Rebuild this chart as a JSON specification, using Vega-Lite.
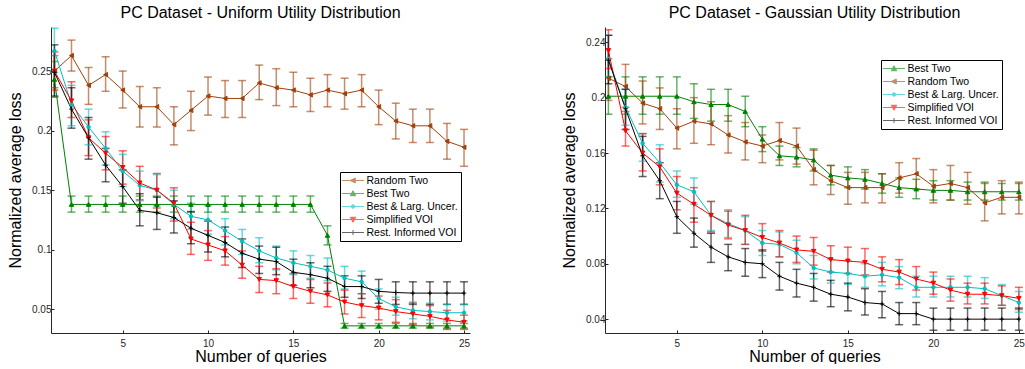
{
  "$schema": "https://vega.github.io/schema/vega-lite/v6.json",
  "background": "white",
  "padding": {"left": 7, "top": 5, "right": 0, "bottom": 0},
  "config": {
    "font": "Liberation Sans",
    "view": {"stroke": null},
    "title": {"fontSize": 16, "fontWeight": "normal", "color": "black", "offset": 6},
    "axis": {"grid": false, "domainColor": "#262626", "tickColor": "#262626", "labelColor": "#262626", "labelFontSize": 10, "titleFontSize": 16, "titleFontWeight": "normal", "titleColor": "black", "tickSize": -3, "labelPadding": 3, "labelOverlap": false},
    "axisX": {"labelPadding": 8, "titlePadding": 0},
    "axisY": {"titlePadding": 8}
  },
  "spacing": 91,
  "resolve": {"scale": {"x": "independent", "y": "independent", "fill": "independent", "shape": "independent", "stroke": "independent"}, "legend": {"fill": "independent", "stroke": "independent", "shape": "independent"}},
  "datasets": {
    "uniform": [
      {"series":"Random Two","q":1,"loss":0.250,"lo":0.236,"hi":0.263},
      {"series":"Random Two","q":2,"loss":0.263,"lo":0.250,"hi":0.276},
      {"series":"Random Two","q":3,"loss":0.238,"lo":0.222,"hi":0.253},
      {"series":"Random Two","q":4,"loss":0.247,"lo":0.233,"hi":0.262},
      {"series":"Random Two","q":5,"loss":0.234,"lo":0.219,"hi":0.250},
      {"series":"Random Two","q":6,"loss":0.220,"lo":0.203,"hi":0.237},
      {"series":"Random Two","q":7,"loss":0.220,"lo":0.203,"hi":0.236},
      {"series":"Random Two","q":8,"loss":0.205,"lo":0.188,"hi":0.220},
      {"series":"Random Two","q":9,"loss":0.217,"lo":0.200,"hi":0.233},
      {"series":"Random Two","q":10,"loss":0.229,"lo":0.213,"hi":0.245},
      {"series":"Random Two","q":11,"loss":0.227,"lo":0.211,"hi":0.242},
      {"series":"Random Two","q":12,"loss":0.227,"lo":0.211,"hi":0.242},
      {"series":"Random Two","q":13,"loss":0.240,"lo":0.226,"hi":0.255},
      {"series":"Random Two","q":14,"loss":0.236,"lo":0.221,"hi":0.252},
      {"series":"Random Two","q":15,"loss":0.234,"lo":0.220,"hi":0.249},
      {"series":"Random Two","q":16,"loss":0.230,"lo":0.216,"hi":0.244},
      {"series":"Random Two","q":17,"loss":0.234,"lo":0.220,"hi":0.247},
      {"series":"Random Two","q":18,"loss":0.231,"lo":0.218,"hi":0.244},
      {"series":"Random Two","q":19,"loss":0.234,"lo":0.220,"hi":0.247},
      {"series":"Random Two","q":20,"loss":0.220,"lo":0.205,"hi":0.234},
      {"series":"Random Two","q":21,"loss":0.208,"lo":0.193,"hi":0.223},
      {"series":"Random Two","q":22,"loss":0.204,"lo":0.190,"hi":0.218},
      {"series":"Random Two","q":23,"loss":0.204,"lo":0.190,"hi":0.218},
      {"series":"Random Two","q":24,"loss":0.191,"lo":0.176,"hi":0.206},
      {"series":"Random Two","q":25,"loss":0.186,"lo":0.170,"hi":0.201},
      {"series":"Best Two","q":1,"loss":0.243,"lo":0.228,"hi":0.258},
      {"series":"Best Two","q":2,"loss":0.138,"lo":0.1315,"hi":0.145},
      {"series":"Best Two","q":3,"loss":0.138,"lo":0.1315,"hi":0.145},
      {"series":"Best Two","q":4,"loss":0.138,"lo":0.1315,"hi":0.145},
      {"series":"Best Two","q":5,"loss":0.138,"lo":0.1315,"hi":0.145},
      {"series":"Best Two","q":6,"loss":0.138,"lo":0.1315,"hi":0.145},
      {"series":"Best Two","q":7,"loss":0.138,"lo":0.1315,"hi":0.145},
      {"series":"Best Two","q":8,"loss":0.138,"lo":0.1315,"hi":0.145},
      {"series":"Best Two","q":9,"loss":0.138,"lo":0.1315,"hi":0.145},
      {"series":"Best Two","q":10,"loss":0.138,"lo":0.1315,"hi":0.145},
      {"series":"Best Two","q":11,"loss":0.138,"lo":0.1315,"hi":0.145},
      {"series":"Best Two","q":12,"loss":0.138,"lo":0.1315,"hi":0.145},
      {"series":"Best Two","q":13,"loss":0.138,"lo":0.1315,"hi":0.145},
      {"series":"Best Two","q":14,"loss":0.138,"lo":0.1315,"hi":0.145},
      {"series":"Best Two","q":15,"loss":0.138,"lo":0.1315,"hi":0.145},
      {"series":"Best Two","q":16,"loss":0.138,"lo":0.1315,"hi":0.145},
      {"series":"Best Two","q":17,"loss":0.112,"lo":0.104,"hi":0.120},
      {"series":"Best Two","q":18,"loss":0.036,"lo":0.034,"hi":0.038},
      {"series":"Best Two","q":19,"loss":0.036,"lo":0.034,"hi":0.038},
      {"series":"Best Two","q":20,"loss":0.036,"lo":0.034,"hi":0.038},
      {"series":"Best Two","q":21,"loss":0.036,"lo":0.034,"hi":0.038},
      {"series":"Best Two","q":22,"loss":0.036,"lo":0.034,"hi":0.038},
      {"series":"Best Two","q":23,"loss":0.036,"lo":0.034,"hi":0.038},
      {"series":"Best Two","q":24,"loss":0.036,"lo":0.034,"hi":0.038},
      {"series":"Best Two","q":25,"loss":0.036,"lo":0.034,"hi":0.038},
      {"series":"Best & Larg. Uncer.","q":1,"loss":0.267,"lo":0.249,"hi":0.286},
      {"series":"Best & Larg. Uncer.","q":2,"loss":0.222,"lo":0.204,"hi":0.238},
      {"series":"Best & Larg. Uncer.","q":3,"loss":0.203,"lo":0.188,"hi":0.218},
      {"series":"Best & Larg. Uncer.","q":4,"loss":0.185,"lo":0.171,"hi":0.199},
      {"series":"Best & Larg. Uncer.","q":5,"loss":0.166,"lo":0.153,"hi":0.180},
      {"series":"Best & Larg. Uncer.","q":6,"loss":0.154,"lo":0.141,"hi":0.166},
      {"series":"Best & Larg. Uncer.","q":7,"loss":0.150,"lo":0.137,"hi":0.163},
      {"series":"Best & Larg. Uncer.","q":8,"loss":0.138,"lo":0.126,"hi":0.150},
      {"series":"Best & Larg. Uncer.","q":9,"loss":0.128,"lo":0.117,"hi":0.139},
      {"series":"Best & Larg. Uncer.","q":10,"loss":0.125,"lo":0.113,"hi":0.137},
      {"series":"Best & Larg. Uncer.","q":11,"loss":0.116,"lo":0.104,"hi":0.126},
      {"series":"Best & Larg. Uncer.","q":12,"loss":0.107,"lo":0.096,"hi":0.117},
      {"series":"Best & Larg. Uncer.","q":13,"loss":0.099,"lo":0.089,"hi":0.110},
      {"series":"Best & Larg. Uncer.","q":14,"loss":0.093,"lo":0.083,"hi":0.103},
      {"series":"Best & Larg. Uncer.","q":15,"loss":0.089,"lo":0.079,"hi":0.099},
      {"series":"Best & Larg. Uncer.","q":16,"loss":0.086,"lo":0.076,"hi":0.095},
      {"series":"Best & Larg. Uncer.","q":17,"loss":0.083,"lo":0.074,"hi":0.093},
      {"series":"Best & Larg. Uncer.","q":18,"loss":0.076,"lo":0.067,"hi":0.086},
      {"series":"Best & Larg. Uncer.","q":19,"loss":0.073,"lo":0.063,"hi":0.082},
      {"series":"Best & Larg. Uncer.","q":20,"loss":0.059,"lo":0.050,"hi":0.067},
      {"series":"Best & Larg. Uncer.","q":21,"loss":0.052,"lo":0.045,"hi":0.060},
      {"series":"Best & Larg. Uncer.","q":22,"loss":0.049,"lo":0.042,"hi":0.056},
      {"series":"Best & Larg. Uncer.","q":23,"loss":0.048,"lo":0.041,"hi":0.055},
      {"series":"Best & Larg. Uncer.","q":24,"loss":0.047,"lo":0.040,"hi":0.054},
      {"series":"Best & Larg. Uncer.","q":25,"loss":0.047,"lo":0.040,"hi":0.054},
      {"series":"Simplified VOI","q":1,"loss":0.250,"lo":0.234,"hi":0.266},
      {"series":"Simplified VOI","q":2,"loss":0.225,"lo":0.211,"hi":0.241},
      {"series":"Simplified VOI","q":3,"loss":0.194,"lo":0.179,"hi":0.209},
      {"series":"Simplified VOI","q":4,"loss":0.181,"lo":0.167,"hi":0.195},
      {"series":"Simplified VOI","q":5,"loss":0.169,"lo":0.155,"hi":0.183},
      {"series":"Simplified VOI","q":6,"loss":0.156,"lo":0.142,"hi":0.170},
      {"series":"Simplified VOI","q":7,"loss":0.150,"lo":0.135,"hi":0.164},
      {"series":"Simplified VOI","q":8,"loss":0.139,"lo":0.124,"hi":0.152},
      {"series":"Simplified VOI","q":9,"loss":0.109,"lo":0.096,"hi":0.123},
      {"series":"Simplified VOI","q":10,"loss":0.104,"lo":0.091,"hi":0.116},
      {"series":"Simplified VOI","q":11,"loss":0.099,"lo":0.087,"hi":0.111},
      {"series":"Simplified VOI","q":12,"loss":0.087,"lo":0.076,"hi":0.099},
      {"series":"Simplified VOI","q":13,"loss":0.075,"lo":0.064,"hi":0.086},
      {"series":"Simplified VOI","q":14,"loss":0.074,"lo":0.063,"hi":0.084},
      {"series":"Simplified VOI","q":15,"loss":0.069,"lo":0.059,"hi":0.080},
      {"series":"Simplified VOI","q":16,"loss":0.065,"lo":0.055,"hi":0.075},
      {"series":"Simplified VOI","q":17,"loss":0.062,"lo":0.052,"hi":0.072},
      {"series":"Simplified VOI","q":18,"loss":0.056,"lo":0.046,"hi":0.066},
      {"series":"Simplified VOI","q":19,"loss":0.053,"lo":0.043,"hi":0.063},
      {"series":"Simplified VOI","q":20,"loss":0.051,"lo":0.041,"hi":0.061},
      {"series":"Simplified VOI","q":21,"loss":0.048,"lo":0.039,"hi":0.058},
      {"series":"Simplified VOI","q":22,"loss":0.046,"lo":0.037,"hi":0.055},
      {"series":"Simplified VOI","q":23,"loss":0.044,"lo":0.035,"hi":0.053},
      {"series":"Simplified VOI","q":24,"loss":0.041,"lo":0.033,"hi":0.049},
      {"series":"Simplified VOI","q":25,"loss":0.039,"lo":0.033,"hi":0.045},
      {"series":"Rest. Informed VOI","q":1,"loss":0.249,"lo":0.229,"hi":0.272},
      {"series":"Rest. Informed VOI","q":2,"loss":0.218,"lo":0.202,"hi":0.236},
      {"series":"Rest. Informed VOI","q":3,"loss":0.194,"lo":0.176,"hi":0.211},
      {"series":"Rest. Informed VOI","q":4,"loss":0.171,"lo":0.157,"hi":0.185},
      {"series":"Rest. Informed VOI","q":5,"loss":0.153,"lo":0.139,"hi":0.167},
      {"series":"Rest. Informed VOI","q":6,"loss":0.133,"lo":0.120,"hi":0.147},
      {"series":"Rest. Informed VOI","q":7,"loss":0.131,"lo":0.117,"hi":0.144},
      {"series":"Rest. Informed VOI","q":8,"loss":0.127,"lo":0.114,"hi":0.141},
      {"series":"Rest. Informed VOI","q":9,"loss":0.118,"lo":0.105,"hi":0.132},
      {"series":"Rest. Informed VOI","q":10,"loss":0.112,"lo":0.098,"hi":0.124},
      {"series":"Rest. Informed VOI","q":11,"loss":0.106,"lo":0.094,"hi":0.119},
      {"series":"Rest. Informed VOI","q":12,"loss":0.097,"lo":0.085,"hi":0.109},
      {"series":"Rest. Informed VOI","q":13,"loss":0.092,"lo":0.080,"hi":0.103},
      {"series":"Rest. Informed VOI","q":14,"loss":0.090,"lo":0.079,"hi":0.102},
      {"series":"Rest. Informed VOI","q":15,"loss":0.081,"lo":0.070,"hi":0.092},
      {"series":"Rest. Informed VOI","q":16,"loss":0.079,"lo":0.068,"hi":0.089},
      {"series":"Rest. Informed VOI","q":17,"loss":0.076,"lo":0.065,"hi":0.086},
      {"series":"Rest. Informed VOI","q":18,"loss":0.069,"lo":0.060,"hi":0.078},
      {"series":"Rest. Informed VOI","q":19,"loss":0.069,"lo":0.059,"hi":0.078},
      {"series":"Rest. Informed VOI","q":20,"loss":0.065,"lo":0.055,"hi":0.075},
      {"series":"Rest. Informed VOI","q":21,"loss":0.064,"lo":0.054,"hi":0.073},
      {"series":"Rest. Informed VOI","q":22,"loss":0.0635,"lo":0.054,"hi":0.073},
      {"series":"Rest. Informed VOI","q":23,"loss":0.0635,"lo":0.054,"hi":0.073},
      {"series":"Rest. Informed VOI","q":24,"loss":0.0635,"lo":0.054,"hi":0.073},
      {"series":"Rest. Informed VOI","q":25,"loss":0.0635,"lo":0.054,"hi":0.073}
    ],
    "gaussian": [
      {"series":"Best Two","q":1,"loss":0.201,"lo":0.188,"hi":0.215},
      {"series":"Best Two","q":2,"loss":0.201,"lo":0.188,"hi":0.215},
      {"series":"Best Two","q":3,"loss":0.201,"lo":0.188,"hi":0.215},
      {"series":"Best Two","q":4,"loss":0.201,"lo":0.188,"hi":0.215},
      {"series":"Best Two","q":5,"loss":0.201,"lo":0.188,"hi":0.215},
      {"series":"Best Two","q":6,"loss":0.197,"lo":0.185,"hi":0.210},
      {"series":"Best Two","q":7,"loss":0.195,"lo":0.183,"hi":0.206},
      {"series":"Best Two","q":8,"loss":0.195,"lo":0.183,"hi":0.206},
      {"series":"Best Two","q":9,"loss":0.190,"lo":0.179,"hi":0.201},
      {"series":"Best Two","q":10,"loss":0.170,"lo":0.161,"hi":0.179},
      {"series":"Best Two","q":11,"loss":0.158,"lo":0.151,"hi":0.165},
      {"series":"Best Two","q":12,"loss":0.157,"lo":0.150,"hi":0.164},
      {"series":"Best Two","q":13,"loss":0.155,"lo":0.147,"hi":0.163},
      {"series":"Best Two","q":14,"loss":0.144,"lo":0.137,"hi":0.151},
      {"series":"Best Two","q":15,"loss":0.142,"lo":0.135,"hi":0.150},
      {"series":"Best Two","q":16,"loss":0.141,"lo":0.134,"hi":0.148},
      {"series":"Best Two","q":17,"loss":0.138,"lo":0.131,"hi":0.145},
      {"series":"Best Two","q":18,"loss":0.135,"lo":0.128,"hi":0.142},
      {"series":"Best Two","q":19,"loss":0.134,"lo":0.127,"hi":0.141},
      {"series":"Best Two","q":20,"loss":0.133,"lo":0.126,"hi":0.140},
      {"series":"Best Two","q":21,"loss":0.133,"lo":0.126,"hi":0.140},
      {"series":"Best Two","q":22,"loss":0.132,"lo":0.126,"hi":0.139},
      {"series":"Best Two","q":23,"loss":0.132,"lo":0.126,"hi":0.139},
      {"series":"Best Two","q":24,"loss":0.132,"lo":0.126,"hi":0.138},
      {"series":"Best Two","q":25,"loss":0.132,"lo":0.126,"hi":0.138},
      {"series":"Random Two","q":1,"loss":0.214,"lo":0.198,"hi":0.228},
      {"series":"Random Two","q":2,"loss":0.208,"lo":0.193,"hi":0.224},
      {"series":"Random Two","q":3,"loss":0.196,"lo":0.181,"hi":0.212},
      {"series":"Random Two","q":4,"loss":0.192,"lo":0.177,"hi":0.207},
      {"series":"Random Two","q":5,"loss":0.178,"lo":0.163,"hi":0.192},
      {"series":"Random Two","q":6,"loss":0.183,"lo":0.167,"hi":0.200},
      {"series":"Random Two","q":7,"loss":0.181,"lo":0.166,"hi":0.197},
      {"series":"Random Two","q":8,"loss":0.173,"lo":0.160,"hi":0.187},
      {"series":"Random Two","q":9,"loss":0.168,"lo":0.155,"hi":0.182},
      {"series":"Random Two","q":10,"loss":0.165,"lo":0.153,"hi":0.173},
      {"series":"Random Two","q":11,"loss":0.169,"lo":0.155,"hi":0.182},
      {"series":"Random Two","q":12,"loss":0.165,"lo":0.152,"hi":0.178},
      {"series":"Random Two","q":13,"loss":0.148,"lo":0.137,"hi":0.162},
      {"series":"Random Two","q":14,"loss":0.140,"lo":0.130,"hi":0.151},
      {"series":"Random Two","q":15,"loss":0.135,"lo":0.123,"hi":0.146},
      {"series":"Random Two","q":16,"loss":0.135,"lo":0.124,"hi":0.146},
      {"series":"Random Two","q":17,"loss":0.135,"lo":0.124,"hi":0.145},
      {"series":"Random Two","q":18,"loss":0.142,"lo":0.131,"hi":0.153},
      {"series":"Random Two","q":19,"loss":0.145,"lo":0.134,"hi":0.156},
      {"series":"Random Two","q":20,"loss":0.136,"lo":0.124,"hi":0.148},
      {"series":"Random Two","q":21,"loss":0.138,"lo":0.126,"hi":0.151},
      {"series":"Random Two","q":22,"loss":0.135,"lo":0.123,"hi":0.146},
      {"series":"Random Two","q":23,"loss":0.124,"lo":0.111,"hi":0.138},
      {"series":"Random Two","q":24,"loss":0.128,"lo":0.116,"hi":0.140},
      {"series":"Random Two","q":25,"loss":0.128,"lo":0.116,"hi":0.139},
      {"series":"Best & Larg. Uncer.","q":1,"loss":0.228,"lo":0.215,"hi":0.245},
      {"series":"Best & Larg. Uncer.","q":2,"loss":0.193,"lo":0.180,"hi":0.206},
      {"series":"Best & Larg. Uncer.","q":3,"loss":0.167,"lo":0.154,"hi":0.174},
      {"series":"Best & Larg. Uncer.","q":4,"loss":0.153,"lo":0.139,"hi":0.166},
      {"series":"Best & Larg. Uncer.","q":5,"loss":0.137,"lo":0.128,"hi":0.147},
      {"series":"Best & Larg. Uncer.","q":6,"loss":0.132,"lo":0.123,"hi":0.142},
      {"series":"Best & Larg. Uncer.","q":7,"loss":0.115,"lo":0.104,"hi":0.125},
      {"series":"Best & Larg. Uncer.","q":8,"loss":0.109,"lo":0.099,"hi":0.119},
      {"series":"Best & Larg. Uncer.","q":9,"loss":0.104,"lo":0.094,"hi":0.114},
      {"series":"Best & Larg. Uncer.","q":10,"loss":0.095,"lo":0.086,"hi":0.104},
      {"series":"Best & Larg. Uncer.","q":11,"loss":0.094,"lo":0.085,"hi":0.103},
      {"series":"Best & Larg. Uncer.","q":12,"loss":0.088,"lo":0.080,"hi":0.097},
      {"series":"Best & Larg. Uncer.","q":13,"loss":0.077,"lo":0.069,"hi":0.086},
      {"series":"Best & Larg. Uncer.","q":14,"loss":0.074,"lo":0.066,"hi":0.083},
      {"series":"Best & Larg. Uncer.","q":15,"loss":0.073,"lo":0.065,"hi":0.082},
      {"series":"Best & Larg. Uncer.","q":16,"loss":0.071,"lo":0.063,"hi":0.080},
      {"series":"Best & Larg. Uncer.","q":17,"loss":0.072,"lo":0.064,"hi":0.081},
      {"series":"Best & Larg. Uncer.","q":18,"loss":0.070,"lo":0.062,"hi":0.078},
      {"series":"Best & Larg. Uncer.","q":19,"loss":0.063,"lo":0.056,"hi":0.071},
      {"series":"Best & Larg. Uncer.","q":20,"loss":0.063,"lo":0.056,"hi":0.071},
      {"series":"Best & Larg. Uncer.","q":21,"loss":0.063,"lo":0.056,"hi":0.071},
      {"series":"Best & Larg. Uncer.","q":22,"loss":0.063,"lo":0.056,"hi":0.071},
      {"series":"Best & Larg. Uncer.","q":23,"loss":0.062,"lo":0.055,"hi":0.070},
      {"series":"Best & Larg. Uncer.","q":24,"loss":0.057,"lo":0.050,"hi":0.065},
      {"series":"Best & Larg. Uncer.","q":25,"loss":0.052,"lo":0.045,"hi":0.060},
      {"series":"Simplified VOI","q":1,"loss":0.234,"lo":0.221,"hi":0.249},
      {"series":"Simplified VOI","q":2,"loss":0.176,"lo":0.165,"hi":0.190},
      {"series":"Simplified VOI","q":3,"loss":0.160,"lo":0.147,"hi":0.174},
      {"series":"Simplified VOI","q":4,"loss":0.150,"lo":0.137,"hi":0.163},
      {"series":"Simplified VOI","q":5,"loss":0.131,"lo":0.119,"hi":0.143},
      {"series":"Simplified VOI","q":6,"loss":0.123,"lo":0.110,"hi":0.135},
      {"series":"Simplified VOI","q":7,"loss":0.115,"lo":0.103,"hi":0.125},
      {"series":"Simplified VOI","q":8,"loss":0.108,"lo":0.098,"hi":0.118},
      {"series":"Simplified VOI","q":9,"loss":0.104,"lo":0.094,"hi":0.115},
      {"series":"Simplified VOI","q":10,"loss":0.099,"lo":0.089,"hi":0.109},
      {"series":"Simplified VOI","q":11,"loss":0.095,"lo":0.085,"hi":0.104},
      {"series":"Simplified VOI","q":12,"loss":0.090,"lo":0.081,"hi":0.100},
      {"series":"Simplified VOI","q":13,"loss":0.089,"lo":0.079,"hi":0.099},
      {"series":"Simplified VOI","q":14,"loss":0.083,"lo":0.074,"hi":0.093},
      {"series":"Simplified VOI","q":15,"loss":0.082,"lo":0.073,"hi":0.092},
      {"series":"Simplified VOI","q":16,"loss":0.081,"lo":0.072,"hi":0.091},
      {"series":"Simplified VOI","q":17,"loss":0.076,"lo":0.067,"hi":0.085},
      {"series":"Simplified VOI","q":18,"loss":0.074,"lo":0.065,"hi":0.083},
      {"series":"Simplified VOI","q":19,"loss":0.069,"lo":0.061,"hi":0.078},
      {"series":"Simplified VOI","q":20,"loss":0.066,"lo":0.058,"hi":0.074},
      {"series":"Simplified VOI","q":21,"loss":0.061,"lo":0.053,"hi":0.069},
      {"series":"Simplified VOI","q":22,"loss":0.058,"lo":0.051,"hi":0.066},
      {"series":"Simplified VOI","q":23,"loss":0.058,"lo":0.051,"hi":0.066},
      {"series":"Simplified VOI","q":24,"loss":0.057,"lo":0.050,"hi":0.064},
      {"series":"Simplified VOI","q":25,"loss":0.055,"lo":0.047,"hi":0.063},
      {"series":"Rest. Informed VOI","q":1,"loss":0.227,"lo":0.210,"hi":0.245},
      {"series":"Rest. Informed VOI","q":2,"loss":0.192,"lo":0.177,"hi":0.206},
      {"series":"Rest. Informed VOI","q":3,"loss":0.158,"lo":0.143,"hi":0.172},
      {"series":"Rest. Informed VOI","q":4,"loss":0.140,"lo":0.127,"hi":0.153},
      {"series":"Rest. Informed VOI","q":5,"loss":0.114,"lo":0.102,"hi":0.125},
      {"series":"Rest. Informed VOI","q":6,"loss":0.102,"lo":0.092,"hi":0.113},
      {"series":"Rest. Informed VOI","q":7,"loss":0.092,"lo":0.081,"hi":0.102},
      {"series":"Rest. Informed VOI","q":8,"loss":0.085,"lo":0.075,"hi":0.094},
      {"series":"Rest. Informed VOI","q":9,"loss":0.081,"lo":0.071,"hi":0.091},
      {"series":"Rest. Informed VOI","q":10,"loss":0.080,"lo":0.070,"hi":0.090},
      {"series":"Rest. Informed VOI","q":11,"loss":0.071,"lo":0.061,"hi":0.081},
      {"series":"Rest. Informed VOI","q":12,"loss":0.066,"lo":0.056,"hi":0.076},
      {"series":"Rest. Informed VOI","q":13,"loss":0.063,"lo":0.053,"hi":0.073},
      {"series":"Rest. Informed VOI","q":14,"loss":0.058,"lo":0.049,"hi":0.068},
      {"series":"Rest. Informed VOI","q":15,"loss":0.056,"lo":0.046,"hi":0.066},
      {"series":"Rest. Informed VOI","q":16,"loss":0.052,"lo":0.043,"hi":0.062},
      {"series":"Rest. Informed VOI","q":17,"loss":0.051,"lo":0.041,"hi":0.060},
      {"series":"Rest. Informed VOI","q":18,"loss":0.044,"lo":0.036,"hi":0.052},
      {"series":"Rest. Informed VOI","q":19,"loss":0.044,"lo":0.036,"hi":0.052},
      {"series":"Rest. Informed VOI","q":20,"loss":0.040,"lo":0.032,"hi":0.048},
      {"series":"Rest. Informed VOI","q":21,"loss":0.040,"lo":0.032,"hi":0.048},
      {"series":"Rest. Informed VOI","q":22,"loss":0.040,"lo":0.032,"hi":0.048},
      {"series":"Rest. Informed VOI","q":23,"loss":0.040,"lo":0.032,"hi":0.048},
      {"series":"Rest. Informed VOI","q":24,"loss":0.040,"lo":0.032,"hi":0.048},
      {"series":"Rest. Informed VOI","q":25,"loss":0.040,"lo":0.032,"hi":0.048}
    ]
  },
  "hconcat": [
    {
      "width": 419, "height": 306,
      "title": "PC Dataset - Uniform Utility Distribution",
      "data": {"name": "uniform"},
      "encoding": {
        "x": {"field": "q", "type": "quantitative", "scale": {"domain": [0.8, 25.35], "nice": false, "zero": false}, "axis": {"title": "Number of queries", "values": [5, 10, 15, 20, 25]}}
      },
      "layer": [
        {"mark": {"type": "rule", "strokeWidth": 1.5, "opacity": 0.6, "clip": true},
         "encoding": {
           "y": {"field": "lo", "type": "quantitative", "title": "Normalized average loss", "scale": {"domain": [0.03, 0.287], "nice": false, "zero": false}, "axis": {"values": [0.05, 0.1, 0.15, 0.2, 0.25], "format": "~g"}},
           "y2": {"field": "hi"},
           "stroke": {"field": "series", "type": "nominal", "scale": {"domain": ["Random Two", "Best Two", "Best & Larg. Uncer.", "Simplified VOI", "Rest. Informed VOI"], "range": ["#a0400a", "#008000", "#00bfbf", "#ff0000", "#000000"]}}
         }},
        {"mark": {"type": "tick", "orient": "horizontal", "size": 8, "thickness": 1.5, "opacity": 0.6, "clip": true},
         "encoding": {
           "y": {"field": "lo", "type": "quantitative", "title": "Normalized average loss"},
           "fill": {"field": "series", "type": "nominal", "scale": {"domain": ["Random Two", "Best Two", "Best & Larg. Uncer.", "Simplified VOI", "Rest. Informed VOI"], "range": ["#a0400a", "#008000", "#00bfbf", "#ff0000", "#000000"]}}
         }},
        {"mark": {"type": "tick", "orient": "horizontal", "size": 8, "thickness": 1.5, "opacity": 0.6, "clip": true},
         "encoding": {
           "y": {"field": "hi", "type": "quantitative", "title": "Normalized average loss"},
           "fill": {"field": "series", "type": "nominal"}
         }},
        {"mark": {"type": "line", "strokeWidth": 1, "clip": true},
         "encoding": {
           "y": {"field": "loss", "type": "quantitative", "title": "Normalized average loss"},
           "stroke": {"field": "series", "type": "nominal"}
         }},
        {"mark": {"type": "point", "filled": true, "opacity": 0, "size": 20, "clip": true},
         "encoding": {
           "y": {"field": "loss", "type": "quantitative", "title": "Normalized average loss"},
           "shape": {"field": "series", "type": "nominal", "scale": {"domain": ["Random Two", "Best Two", "Best & Larg. Uncer.", "Simplified VOI", "Rest. Informed VOI"], "range": ["M-2.2,0L2.2,0M-0.55,0L0.45,-0.5L0.45,0.5Z", "M-2.2,0L2.2,0M-0.55,0.45L0.55,0.45L0,-0.55Z", "M-2.2,0L2.2,0M0.35,0A0.35,0.35 0 1,1 -0.35,0A0.35,0.35 0 1,1 0.35,0Z", "M-2.2,0L2.2,0M-0.55,-0.45L0.55,-0.45L0,0.55Z", "M-2.2,0L2.2,0M0,-0.5L0,0.5"]},
             "legend": {"orient": "none", "legendX": 289, "legendY": 145, "title": null, "strokeColor": "black", "fillColor": "white", "padding": 3, "labelFont": "Liberation Sans", "labelFontSize": 10.5, "labelColor": "black", "symbolSize": 100, "symbolOffset": 4.5, "labelOffset": 8, "rowPadding": 2, "symbolOpacity": 1, "symbolStrokeWidth": 1}},
           "fill": {"field": "series", "type": "nominal",
             "legend": {"orient": "none", "legendX": 289, "legendY": 145, "title": null, "strokeColor": "black", "fillColor": "white", "padding": 3, "labelFont": "Liberation Sans", "labelFontSize": 10.5, "labelColor": "black", "symbolSize": 100, "symbolOffset": 4.5, "labelOffset": 8, "rowPadding": 2, "symbolOpacity": 1, "symbolStrokeWidth": 1}},
           "stroke": {"field": "series", "type": "nominal",
             "legend": {"orient": "none", "legendX": 289, "legendY": 145, "title": null, "strokeColor": "black", "fillColor": "white", "padding": 3, "labelFont": "Liberation Sans", "labelFontSize": 10.5, "labelColor": "black", "symbolSize": 100, "symbolOffset": 4.5, "labelOffset": 8, "rowPadding": 2, "symbolOpacity": 1, "symbolStrokeWidth": 1}}
         }},
        {"transform": [{"filter": {"field": "series", "equal": "Random Two"}}],
         "mark": {"type": "point", "shape": "triangle-left", "filled": true, "opacity": 1, "size": 20, "strokeWidth": 1, "clip": true},
         "encoding": {"y": {"field": "loss", "type": "quantitative", "title": "Normalized average loss"}, "fill": {"field": "series", "type": "nominal"}, "stroke": {"field": "series", "type": "nominal"}}},
        {"transform": [{"filter": {"field": "series", "equal": "Best Two"}}],
         "mark": {"type": "point", "shape": "triangle-up", "filled": true, "opacity": 1, "size": 20, "strokeWidth": 1, "clip": true},
         "encoding": {"y": {"field": "loss", "type": "quantitative", "title": "Normalized average loss"}, "fill": {"field": "series", "type": "nominal"}, "stroke": {"field": "series", "type": "nominal"}}},
        {"transform": [{"filter": {"field": "series", "equal": "Best & Larg. Uncer."}}],
         "mark": {"type": "point", "shape": "circle", "filled": true, "opacity": 1, "size": 12, "strokeWidth": 1, "clip": true},
         "encoding": {"y": {"field": "loss", "type": "quantitative", "title": "Normalized average loss"}, "fill": {"field": "series", "type": "nominal"}, "stroke": {"field": "series", "type": "nominal"}}},
        {"transform": [{"filter": {"field": "series", "equal": "Simplified VOI"}}],
         "mark": {"type": "point", "shape": "triangle-down", "filled": true, "opacity": 1, "size": 20, "strokeWidth": 1, "clip": true},
         "encoding": {"y": {"field": "loss", "type": "quantitative", "title": "Normalized average loss"}, "fill": {"field": "series", "type": "nominal"}, "stroke": {"field": "series", "type": "nominal"}}},
        {"transform": [{"filter": {"field": "series", "equal": "Rest. Informed VOI"}}],
         "mark": {"type": "point", "shape": "M-1,0L1,0M0,-1L0,1", "filled": true, "opacity": 1, "size": 20, "strokeWidth": 1, "clip": true},
         "encoding": {"y": {"field": "loss", "type": "quantitative", "title": "Normalized average loss"}, "fill": {"field": "series", "type": "nominal"}, "stroke": {"field": "series", "type": "nominal"}}}
      ]
    },
    {
      "width": 419, "height": 306,
      "title": "PC Dataset - Gaussian Utility Distribution",
      "data": {"name": "gaussian"},
      "encoding": {
        "x": {"field": "q", "type": "quantitative", "scale": {"domain": [0.8, 25.3], "nice": false, "zero": false}, "axis": {"title": "Number of queries", "values": [5, 10, 15, 20, 25]}}
      },
      "layer": [
        {"mark": {"type": "rule", "strokeWidth": 1.5, "opacity": 0.6, "clip": true},
         "encoding": {
           "y": {"field": "lo", "type": "quantitative", "title": "Normalized average loss", "scale": {"domain": [0.03, 0.251], "nice": false, "zero": false}, "axis": {"values": [0.04, 0.06, 0.08, 0.1, 0.12, 0.14, 0.16, 0.18, 0.2, 0.22, 0.24], "format": "~g"}},
           "y2": {"field": "hi"},
           "stroke": {"field": "series", "type": "nominal", "scale": {"domain": ["Best Two", "Random Two", "Best & Larg. Uncer.", "Simplified VOI", "Rest. Informed VOI"], "range": ["#008000", "#a0400a", "#00bfbf", "#ff0000", "#000000"]}}
         }},
        {"mark": {"type": "tick", "orient": "horizontal", "size": 8, "thickness": 1.5, "opacity": 0.6, "clip": true},
         "encoding": {
           "y": {"field": "lo", "type": "quantitative", "title": "Normalized average loss"},
           "fill": {"field": "series", "type": "nominal", "scale": {"domain": ["Best Two", "Random Two", "Best & Larg. Uncer.", "Simplified VOI", "Rest. Informed VOI"], "range": ["#008000", "#a0400a", "#00bfbf", "#ff0000", "#000000"]}}
         }},
        {"mark": {"type": "tick", "orient": "horizontal", "size": 8, "thickness": 1.5, "opacity": 0.6, "clip": true},
         "encoding": {
           "y": {"field": "hi", "type": "quantitative", "title": "Normalized average loss"},
           "fill": {"field": "series", "type": "nominal"}
         }},
        {"mark": {"type": "line", "strokeWidth": 1, "clip": true},
         "encoding": {
           "y": {"field": "loss", "type": "quantitative", "title": "Normalized average loss"},
           "stroke": {"field": "series", "type": "nominal"}
         }},
        {"mark": {"type": "point", "filled": true, "opacity": 0, "size": 20, "clip": true},
         "encoding": {
           "y": {"field": "loss", "type": "quantitative", "title": "Normalized average loss"},
           "shape": {"field": "series", "type": "nominal", "scale": {"domain": ["Best Two", "Random Two", "Best & Larg. Uncer.", "Simplified VOI", "Rest. Informed VOI"], "range": ["M-2.2,0L2.2,0M-0.55,0.45L0.55,0.45L0,-0.55Z", "M-2.2,0L2.2,0M-0.55,0L0.45,-0.5L0.45,0.5Z", "M-2.2,0L2.2,0M0.35,0A0.35,0.35 0 1,1 -0.35,0A0.35,0.35 0 1,1 0.35,0Z", "M-2.2,0L2.2,0M-0.55,-0.45L0.55,-0.45L0,0.55Z", "M-2.2,0L2.2,0M0,-0.5L0,0.5"]},
             "legend": {"orient": "none", "legendX": 276, "legendY": 33, "title": null, "strokeColor": "black", "fillColor": "white", "padding": 3, "labelFont": "Liberation Sans", "labelFontSize": 10.5, "labelColor": "black", "symbolSize": 100, "symbolOffset": 4.5, "labelOffset": 8, "rowPadding": 2, "symbolOpacity": 1, "symbolStrokeWidth": 1}},
           "fill": {"field": "series", "type": "nominal",
             "legend": {"orient": "none", "legendX": 276, "legendY": 33, "title": null, "strokeColor": "black", "fillColor": "white", "padding": 3, "labelFont": "Liberation Sans", "labelFontSize": 10.5, "labelColor": "black", "symbolSize": 100, "symbolOffset": 4.5, "labelOffset": 8, "rowPadding": 2, "symbolOpacity": 1, "symbolStrokeWidth": 1}},
           "stroke": {"field": "series", "type": "nominal",
             "legend": {"orient": "none", "legendX": 276, "legendY": 33, "title": null, "strokeColor": "black", "fillColor": "white", "padding": 3, "labelFont": "Liberation Sans", "labelFontSize": 10.5, "labelColor": "black", "symbolSize": 100, "symbolOffset": 4.5, "labelOffset": 8, "rowPadding": 2, "symbolOpacity": 1, "symbolStrokeWidth": 1}}
         }},
        {"transform": [{"filter": {"field": "series", "equal": "Random Two"}}],
         "mark": {"type": "point", "shape": "triangle-left", "filled": true, "opacity": 1, "size": 20, "strokeWidth": 1, "clip": true},
         "encoding": {"y": {"field": "loss", "type": "quantitative", "title": "Normalized average loss"}, "fill": {"field": "series", "type": "nominal"}, "stroke": {"field": "series", "type": "nominal"}}},
        {"transform": [{"filter": {"field": "series", "equal": "Best Two"}}],
         "mark": {"type": "point", "shape": "triangle-up", "filled": true, "opacity": 1, "size": 20, "strokeWidth": 1, "clip": true},
         "encoding": {"y": {"field": "loss", "type": "quantitative", "title": "Normalized average loss"}, "fill": {"field": "series", "type": "nominal"}, "stroke": {"field": "series", "type": "nominal"}}},
        {"transform": [{"filter": {"field": "series", "equal": "Best & Larg. Uncer."}}],
         "mark": {"type": "point", "shape": "circle", "filled": true, "opacity": 1, "size": 12, "strokeWidth": 1, "clip": true},
         "encoding": {"y": {"field": "loss", "type": "quantitative", "title": "Normalized average loss"}, "fill": {"field": "series", "type": "nominal"}, "stroke": {"field": "series", "type": "nominal"}}},
        {"transform": [{"filter": {"field": "series", "equal": "Simplified VOI"}}],
         "mark": {"type": "point", "shape": "triangle-down", "filled": true, "opacity": 1, "size": 20, "strokeWidth": 1, "clip": true},
         "encoding": {"y": {"field": "loss", "type": "quantitative", "title": "Normalized average loss"}, "fill": {"field": "series", "type": "nominal"}, "stroke": {"field": "series", "type": "nominal"}}},
        {"transform": [{"filter": {"field": "series", "equal": "Rest. Informed VOI"}}],
         "mark": {"type": "point", "shape": "M-1,0L1,0M0,-1L0,1", "filled": true, "opacity": 1, "size": 20, "strokeWidth": 1, "clip": true},
         "encoding": {"y": {"field": "loss", "type": "quantitative", "title": "Normalized average loss"}, "fill": {"field": "series", "type": "nominal"}, "stroke": {"field": "series", "type": "nominal"}}}
      ]
    }
  ]
}
